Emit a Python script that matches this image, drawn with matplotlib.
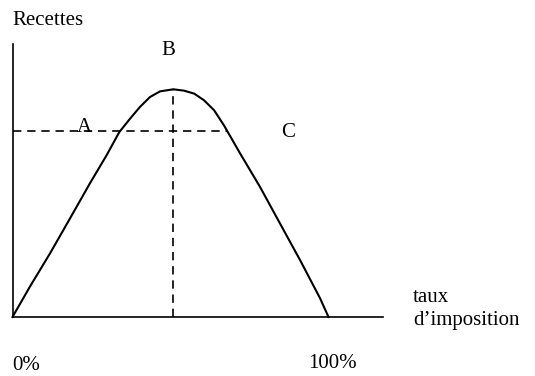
import numpy as np
import matplotlib.pyplot as plt

# courbe de Laffer (taux en %, recettes avec sommet = 100)
taux = [0, 5.5, 11.9, 18.2, 24.5, 29.8, 33.8, 37.2, 40.3, 43.5, 46.7, 50.9,
        54.3, 57.5, 60.6, 63.8, 66.9, 72.0, 78.3, 84.6, 91.0, 97.3, 100]
recettes = [0, 13.3, 28.0, 43.3, 58.7, 71.1, 81.2, 87.1, 92.2, 96.6, 99.1, 100,
            99.4, 98.1, 95.2, 90.8, 84.2, 71.9, 57.2, 41.2, 25.0, 8.3, 0]

taux_max = 50.9      # point B
niveau = 81.7        # niveau de recettes des points A et C
taux_c = 68.0
x_fin = 117.2
y_fin = 119.9

plt.rcParams['font.family'] = ['Liberation Serif', 'DejaVu Serif']

fig = plt.figure(figsize=(5.35, 3.76), dpi=100)
ax = fig.add_axes([0, 0, 1, 1])
# 1% = 3.16 px, 1 unite de recettes = 2.277 px, origine a (12.5, 317) px
ax.set_xlim(-12.5 / 3.16, (535 - 12.5) / 3.16)
ax.set_ylim((317 - 376) / 2.277, 317 / 2.277)
ax.axis('off')

# axes
ax.plot([0, 0], [0, y_fin], color='black', lw=1.2)
ax.plot([0, x_fin], [0, 0], color='black', lw=1.2)

ax.plot(taux, recettes, color='black', lw=1.5, solid_joinstyle='round')

ax.plot([0, taux_c], [niveau, niveau], color='black', lw=1.2, dashes=(5, 3.5))
ax.plot([taux_max, taux_max], [0, 100], color='black', lw=1.2, dashes=(5, 3.5))

def txt(x, y, s):
    fig.text(x / 535, 1 - y / 376, s, fontsize=15, va='baseline', ha='left')

txt(12, 25, 'Recettes')
txt(161, 55, 'B')
txt(77, 132, 'A')
txt(281, 137, 'C')
txt(413, 302, 'taux')
txt(413, 325, 'd\u2019imposition')
txt(12, 370, '0%')
txt(308, 368, '100%')

fig.savefig('out.png', dpi=100)
